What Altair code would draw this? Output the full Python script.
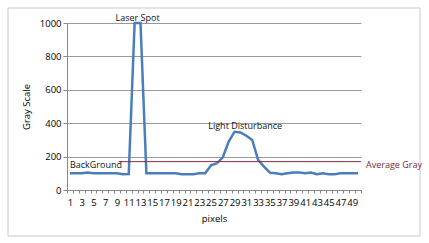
import altair as alt
import pandas as pd

pixels = list(range(1, 51))
gray = [100, 100, 100, 105, 100, 100, 100, 100, 100, 95,
        96, 1000, 1000, 100, 100, 100, 100, 100, 100, 95,
        95, 95, 100, 100, 148, 160, 196, 290, 349, 345,
        325, 300, 180, 140, 104, 100, 95, 100, 105, 105,
        100, 105, 95, 100, 95, 95, 100, 100, 100, 100]
avg_gray = 170
avg_start = 9.3

notes_text = ["Laser Spot", "BackGround", "Light Disturbance"]
notes_x = [12.5, 1, 30.8]
notes_y = [1000, 118, 352]
notes_align = ["center", "left", "center"]

df = pd.DataFrame({"pixel": pixels, "gray": gray})
notes = pd.DataFrame({"x": notes_x, "y": notes_y, "t": notes_text, "a": notes_align})
avg = pd.DataFrame({"x": [avg_start], "x2": [50.5], "y": [avg_gray], "t": ["Average Gray"]})

FONT = "Open Sans"
W, H = 294, 167

xscale = alt.Scale(domain=[0.5, 50.5], nice=False, zero=False)
yscale = alt.Scale(domain=[0, 1000], nice=False)

tick_vals = [i + 0.5 for i in range(0, 51)]

xaxis = alt.Axis(values=tick_vals, title="pixels", grid=False,
                 labelExpr="((datum.value+0.5) % 2 == 1 && datum.value < 50) ? format(datum.value+0.5, 'd') : ''",
                 labelOffset=2.94, labelOverlap=False, labelFlush=False, labelBound=False,
                 labelPadding=4,
                 tickSize=3, tickColor="#888", domainColor="#888",
                 labelFontSize=9.5, titleFontSize=9.5, titlePadding=7,
                 labelFont=FONT, titleFont=FONT, titleFontWeight="normal")
yaxis = alt.Axis(values=[0, 200, 400, 600, 800, 1000], title="Gray Scale", format="d",
                 grid=True, gridColor="#9a9a9a", gridWidth=1,
                 labelOverlap=False, labelFlush=False, labelBound=False,
                 tickSize=4, tickColor="#888", domainColor="#888",
                 labelFontSize=9.5, titleFontSize=9.5, titlePadding=8,
                 labelFont=FONT, titleFont=FONT, titleFontWeight="normal")

frame = alt.Chart(pd.DataFrame({"k": [0]})).mark_rect(
    fill=None, stroke="#c8c8c8", strokeWidth=1, clip=False
).encode(
    x=alt.value(-59), x2=alt.value(353), y=alt.value(-15), y2=alt.value(213)
)

line = alt.Chart(df).mark_line(color="#4a7ebb", strokeWidth=2.5).encode(
    x=alt.X("pixel:Q", scale=xscale, axis=xaxis),
    y=alt.Y("gray:Q", scale=yscale, axis=yaxis),
)

avg_rule = alt.Chart(avg).mark_rule(color="#8b2a3c", strokeWidth=1).encode(
    x=alt.X("x:Q", scale=xscale, axis=xaxis), x2="x2:Q",
    y=alt.Y("y:Q", scale=yscale, axis=yaxis)
)
avg_text = alt.Chart(avg).mark_text(
    align="left", baseline="middle", dx=5, dy=3, font=FONT, fontSize=9, color="#7a2a3a"
).encode(x=alt.X("x2:Q", scale=xscale, axis=xaxis),
         y=alt.Y("y:Q", scale=yscale, axis=yaxis), text="t:N")

note_layers = []
for t in notes_text:
    sub = notes[notes["t"] == t]
    a = sub["a"].iloc[0]
    note_layers.append(
        alt.Chart(sub).mark_text(align=a, baseline="bottom", font=FONT, fontSize=9,
                                 color="#111", dy=0).encode(
            x=alt.X("x:Q", scale=xscale, axis=xaxis),
            y=alt.Y("y:Q", scale=yscale, axis=yaxis), text="t:N")
    )

chart = alt.layer(frame, line, avg_rule, avg_text, *note_layers).properties(
    width=W, height=H,
    padding={"left": 67, "top": 23, "right": 68, "bottom": 53},
    autosize=alt.AutoSizeParams(type="none"),
    background="white",
).configure_view(stroke=None)

chart.save("out.html", embed_options={"renderer": "svg", "actions": False})
